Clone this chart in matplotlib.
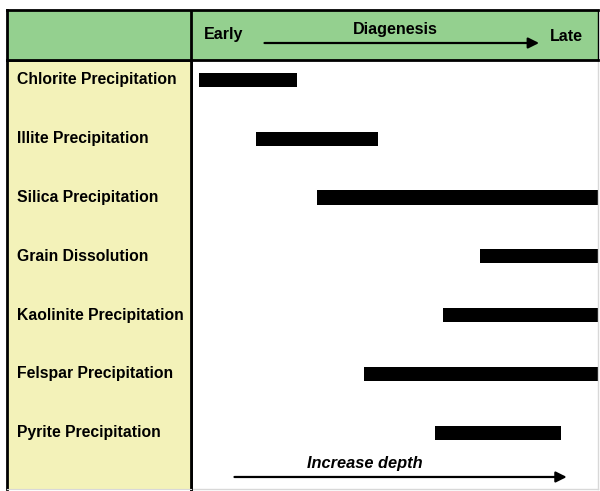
import numpy as np
import matplotlib
matplotlib.use('Agg')
import matplotlib.pyplot as plt

plt.rcParams['font.family'] = ['Liberation Sans', 'DejaVu Sans']

# діагенетичні процеси і їх відносний час (0 = рано, 100 = пізно)
processes = ['Chlorite Precipitation', 'Illite Precipitation', 'Silica Precipitation',
             'Grain Dissolution', 'Kaolinite Precipitation', 'Felspar Precipitation',
             'Pyrite Precipitation']
start = [2, 16, 31, 71, 62, 42.5, 60]
end = [26, 46, 100, 100, 100, 100, 91]

header_green = '#94d08f'
side_yellow = '#f3f2b9'

W, H = 600, 491
fig = plt.figure(figsize=(W / 100, H / 100), dpi=100)
fig.patch.set_facecolor('white')

def fx(px):
    return px / W

def fy(py):
    return 1 - py / H

x_left, x_div, x_right = 7, 191, 598
y_top, y_head, y_bot = 10, 60, 489

#основна область з барами
ax = fig.add_axes([fx(x_div), fy(y_bot), fx(x_right - x_div), (y_bot - y_head) / H])
axl = fig.add_axes([fx(x_left), fy(y_bot), fx(x_div - x_left), (y_bot - y_head) / H], sharey=ax)
axh = fig.add_axes([fx(x_left), fy(y_head), fx(x_right - x_left), (y_head - y_top) / H])

y = np.arange(len(processes))
widths = np.array(end) - np.array(start)
ax.barh(y, widths, left=start, height=0.24, color='black')
ax.set_xlim(0, 100)
ax.set_ylim(6.96, -0.34)
ax.set_xticks([])
ax.tick_params(left=False, labelleft=False)
ax.set_facecolor('white')
for side in ['top', 'bottom', 'right']:
    ax.spines[side].set_color('#d8d8d8')
    ax.spines[side].set_linewidth(1)
ax.spines['left'].set_linewidth(2)

# стрілка глибини
ax.annotate('', xy=(0.93, 0.028), xytext=(0.1, 0.028), xycoords='axes fraction',
            arrowprops=dict(arrowstyle='-|>', color='black', lw=1.6, mutation_scale=16))
ax.text(0.428, 0.06, 'Increase depth', transform=ax.transAxes, ha='center', va='center',
        fontsize=11.8, fontweight='bold', fontstyle='italic')

#ліва колонка з назвами
axl.set_facecolor(side_yellow)
axl.set_xlim(0, 1)
axl.set_xticks([])
axl.tick_params(left=False, labelleft=False)
for i, name in enumerate(processes):
    axl.text(0.055, i, name, ha='left', va='center', fontsize=11.3, fontweight='bold')
for side in ['left', 'right']:
    axl.spines[side].set_linewidth(2)
axl.spines['top'].set_linewidth(2)
axl.spines['bottom'].set_color('#d8d8d8')

#шапка
axh.set_facecolor(header_green)
axh.set_xlim(0, 1)
axh.set_ylim(0, 1)
axh.set_xticks([])
axh.set_yticks([])
for side in axh.spines:
    axh.spines[side].set_linewidth(2)
axh.spines['right'].set_linewidth(1)
div = (x_div - x_left) / (x_right - x_left)
axh.axvline(div, color='black', lw=2)
axh.text(0.367, 0.5, 'Early', ha='center', va='center', fontsize=11.5, fontweight='bold')
axh.text(0.657, 0.6, 'Diagenesis', ha='center', va='center', fontsize=11.6, fontweight='bold')
axh.text(0.946, 0.46, 'Late', ha='center', va='center', fontsize=11.5, fontweight='bold')
axh.annotate('', xy=(0.905, 0.34), xytext=(0.431, 0.34), xycoords='axes fraction',
             arrowprops=dict(arrowstyle='-|>', color='black', lw=1.6, mutation_scale=16))

fig.savefig('out.png', dpi=100)
